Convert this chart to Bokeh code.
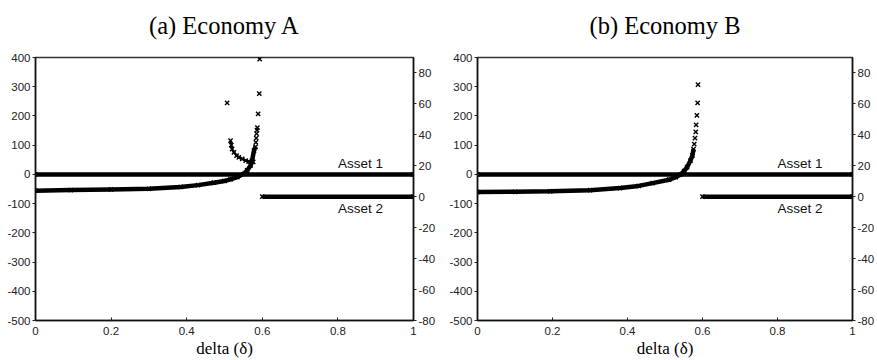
from bokeh.plotting import figure
from bokeh.models import Range1d, LinearAxis, FixedTicker, Label, NumeralTickFormatter, Title
from bokeh.layouts import row
from bokeh.embed import file_html
from bokeh.resources import INLINE

# Holdings plotted against the discount parameter delta.
# Asset 1 is read on the left axis, Asset 2 on the right axis.

# Asset 1: zero over the whole delta range
asset1_delta = [0.0, 1.0]
asset1_value = [0.0, 0.0]

# Asset 2 after the switch point: zero
asset2_hi_delta = [0.6, 1.0]
asset2_hi_value = [0.0, 0.0]

# Economy A, Asset 2 (right axis) - dense part of the rising branch
a_dense_delta = [0.0, 0.093, 0.2, 0.3, 0.384, 0.43, 0.472, 0.5, 0.516, 0.534,
                 0.551, 0.560, 0.569, 0.573, 0.578, 0.582]
a_dense_value = [3.9, 4.3, 4.7, 5.1, 6.3, 7.5, 9.1, 10.2, 11.2, 12.7,
                 14.8, 17.0, 20.2, 23.4, 29.8, 32.3]
# Economy A - sparse points near the asymptote
a_tail_delta = [0.583, 0.584, 0.585, 0.586, 0.587, 0.589, 0.592, 0.593]
a_tail_value = [35.1, 37.9, 40.8, 43.0, 44.7, 53.6, 66.7, 89.0]
# Economy A - second (upper) branch
a_upper_delta = [0.507, 0.516, 0.518, 0.520, 0.525, 0.532, 0.538, 0.547,
                 0.556, 0.564, 0.571, 0.576]
a_upper_value = [60.7, 36.2, 33.4, 30.8, 28.7, 26.6, 25.5, 24.4,
                 23.4, 22.7, 22.3, 22.5]

# Economy B, Asset 2 (right axis)
b_dense_delta = [0.0, 0.1, 0.194, 0.3, 0.38, 0.43, 0.467, 0.511, 0.529, 0.542,
                 0.551, 0.559, 0.568, 0.573, 0.576]
b_dense_value = [3.0, 3.2, 3.5, 4.2, 5.6, 7.0, 8.8, 11.0, 12.7, 14.4,
                 16.5, 19.1, 23.4, 26.6, 30.8]
b_tail_delta = [0.578, 0.580, 0.582, 0.583, 0.585, 0.587, 0.588]
b_tail_value = [34.0, 37.9, 41.9, 46.4, 52.6, 60.7, 72.4]

x_ticks = [0, 0.2, 0.4, 0.6, 0.8, 1]
left_ticks = [-500, -400, -300, -200, -100, 0, 100, 200, 300, 400]
right_ticks = [-80, -60, -40, -20, 0, 20, 40, 60, 80]

TICK_FONT = "Liberation Sans"
SERIF = "Liberation Serif"
INK = "#222222"


def panel(title, dense_d, dense_v, tail_d, tail_v, upper_d=None, upper_v=None,
          width=438, left=35, right=25):
    p = figure(width=width, height=360, x_range=Range1d(0, 1),
               y_range=Range1d(-500, 400), output_backend="svg",
               toolbar_location=None, min_border_left=left,
               min_border_right=right, min_border_top=57, min_border_bottom=39,
               x_axis_type=None, y_axis_type=None, title=None)
    p.extra_y_ranges = {"right": Range1d(-80, 90)}
    p.outline_line_color = "#333333"
    p.outline_line_width = 1.5
    p.background_fill_color = "white"
    p.border_fill_color = "white"

    # blank strip between frame and heading, then the heading itself
    p.add_layout(Title(text=" ", text_font_size="11px", standoff=0), "above")
    p.add_layout(Title(text=title, align="center", text_font=SERIF,
                       text_font_size="24.5px", text_font_style="normal",
                       text_color="black", offset=4), "above")

    def style(ax, tin, tout, standoff):
        ax.major_tick_in = tin
        ax.major_tick_out = tout
        ax.minor_tick_line_color = None
        ax.major_tick_line_color = "#222222"
        ax.axis_line_color = "#111111"
        ax.axis_line_width = 1.5
        ax.major_label_text_font = TICK_FONT
        ax.major_label_text_font_size = "11.5px"
        ax.major_label_text_color = INK
        ax.major_label_standoff = standoff

    xb = LinearAxis(ticker=FixedTicker(ticks=x_ticks),
                    formatter=NumeralTickFormatter(format="0.[0]"))
    style(xb, 3, 0, 6)
    xb.axis_label = "delta (\u03b4)"
    xb.axis_label_text_font = SERIF
    xb.axis_label_text_font_size = "17px"
    xb.axis_label_text_font_style = "normal"
    xb.axis_label_text_color = "black"
    xb.axis_label_standoff = 1
    p.add_layout(xb, "below")

    yl = LinearAxis(ticker=FixedTicker(ticks=left_ticks),
                    formatter=NumeralTickFormatter(format="0"))
    style(yl, 0, 3, 2)
    p.add_layout(yl, "left")

    yr = LinearAxis(y_range_name="right", ticker=FixedTicker(ticks=right_ticks),
                    formatter=NumeralTickFormatter(format="0"))
    style(yr, 0, 3, 2)
    p.add_layout(yr, "right")

    p.xgrid.ticker = FixedTicker(ticks=x_ticks)
    p.ygrid.ticker = FixedTicker(ticks=left_ticks)
    for g in (p.xgrid, p.ygrid):
        g.grid_line_color = "#dedede"
        g.grid_line_width = 1

    mk = dict(marker="x", size=6, line_width=1.4, color="black")

    # Asset 1 on the left axis
    p.line(asset1_delta, asset1_value, line_width=4.5, color="black")
    p.scatter(asset1_delta, asset1_value, **mk)

    # Asset 2 on the right axis
    p.line(asset2_hi_delta, asset2_hi_value, line_width=4.5, color="black",
           y_range_name="right")
    p.scatter(asset2_hi_delta, asset2_hi_value, y_range_name="right", **mk)

    p.line(dense_d, dense_v, line_width=4.5, color="black", y_range_name="right")
    p.scatter(dense_d, dense_v, y_range_name="right", **mk)
    p.scatter(tail_d, tail_v, y_range_name="right", **mk)
    if upper_d is not None:
        p.line(upper_d[1:], upper_v[1:], line_width=2.5, color="black",
               y_range_name="right")
        p.scatter(upper_d, upper_v, y_range_name="right", **mk)

    p.add_layout(Label(x=0.8, y=36, text="Asset 1", text_baseline="middle",
                       text_font=TICK_FONT, text_font_size="13.5px",
                       text_color="#111111"))
    p.add_layout(Label(x=0.8, y=-117, text="Asset 2", text_baseline="middle",
                       text_font=TICK_FONT, text_font_size="13.5px",
                       text_color="#111111"))
    return p


pa = panel("(a) Economy A", a_dense_delta, a_dense_value, a_tail_delta,
           a_tail_value, a_upper_delta, a_upper_value, width=438, left=35, right=25)
pb = panel("(b) Economy B", b_dense_delta, b_dense_value, b_tail_delta,
           b_tail_value, width=439, left=39, right=22)

layout = row(pa, pb)
open("out.html", "w").write(file_html(layout, INLINE))
